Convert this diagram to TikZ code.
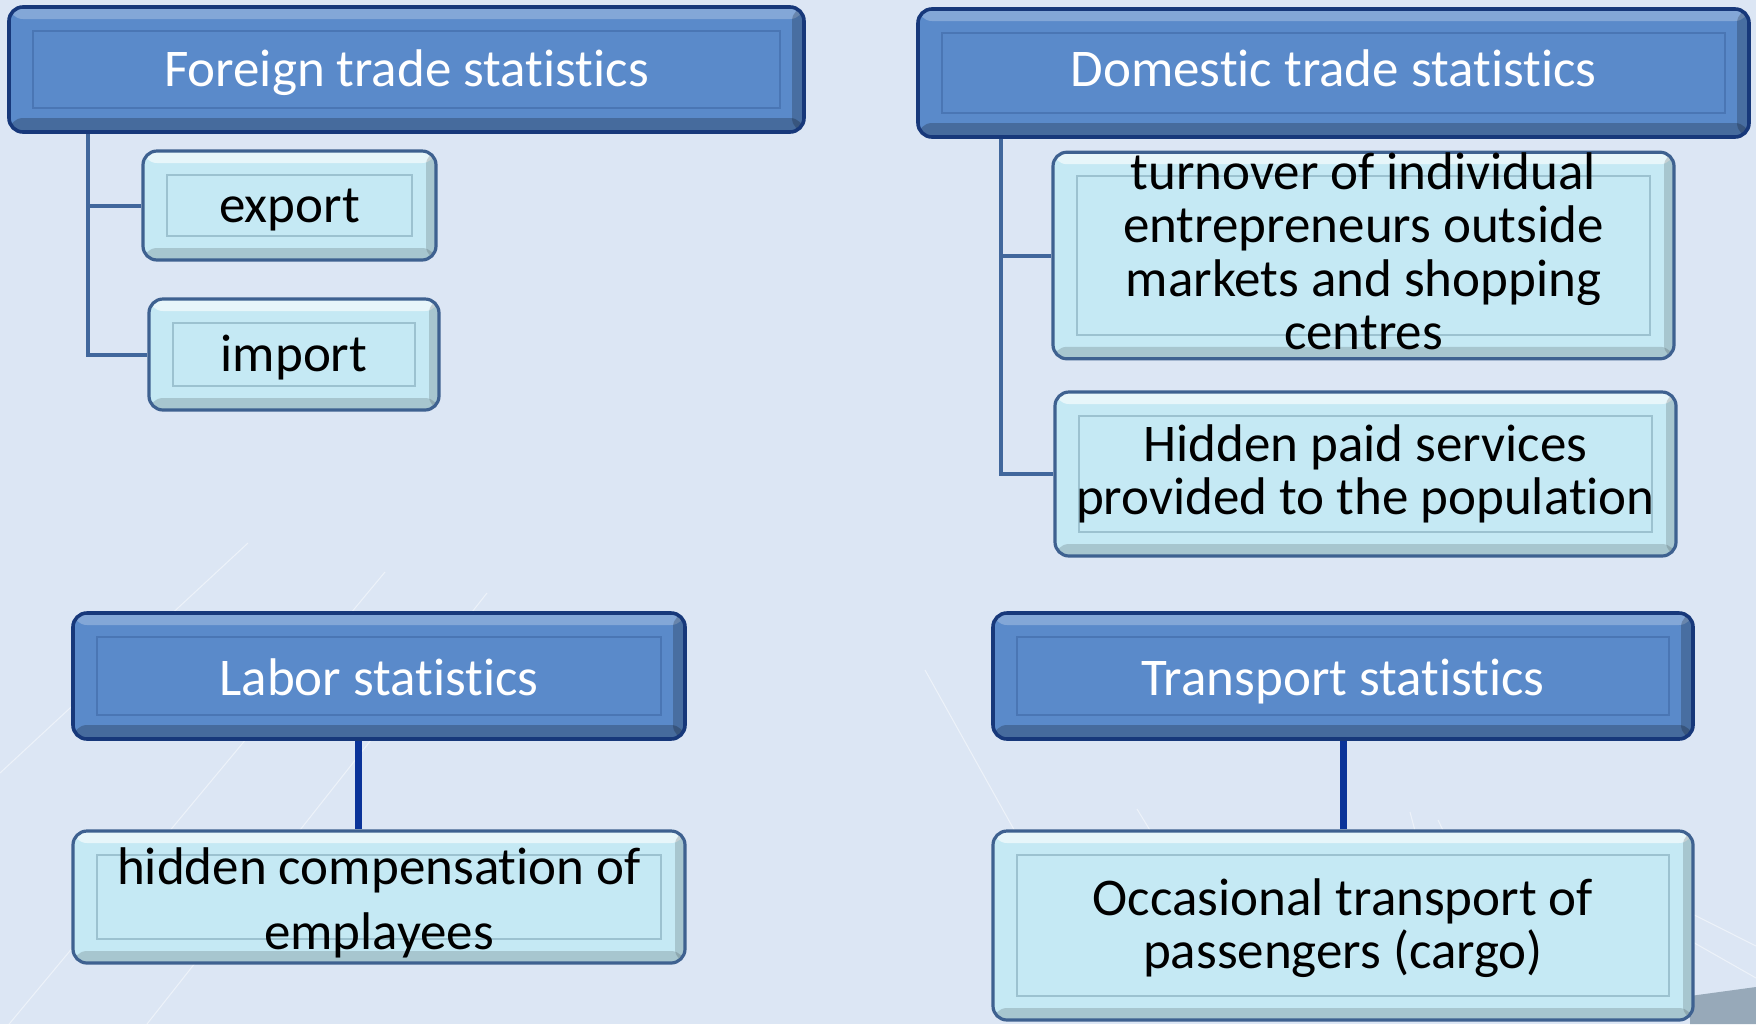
\documentclass[tikz,border=0pt]{standalone}
\usepackage{fontspec}
\setmainfont{Carlito}[Ligatures=NoCommon]
\definecolor{bg}{HTML}{DCE6F4}
\definecolor{hdrfill}{HTML}{5A8ACA}
\definecolor{hdrline}{HTML}{17387A}
\definecolor{hdrinner}{HTML}{4A76B4}
\definecolor{chlfill}{HTML}{C5E9F4}
\definecolor{chlline}{HTML}{3E6190}
\definecolor{chlinner}{HTML}{9CC2D0}
\definecolor{treeline}{HTML}{41679C}
\definecolor{navyline}{HTML}{0A3399}
\definecolor{cornergray}{HTML}{97A9B9}
\tikzset{
  boxfont/.style={font=\fontsize{26.5}{26.8}\selectfont, align=center},
  hdr/.style={boxfont, rounded corners=7pt, fill=hdrfill, draw=hdrline, line width=1.8pt,
    text=white, inner sep=0pt, text height=17pt, text depth=0pt,
    path picture={
      \fill[white,opacity=.25] (path picture bounding box.north west) rectangle ([yshift=-6pt]path picture bounding box.north east);
      \fill[black,opacity=.22] ([yshift=7pt]path picture bounding box.south west) rectangle (path picture bounding box.south east);
      \fill[black,opacity=.2] ([xshift=-6pt]path picture bounding box.north east) rectangle (path picture bounding box.south east);
      \draw[sharp corners, hdrinner, line width=.9pt] ([shift={(12pt,-12pt)}]path picture bounding box.north west) rectangle ([shift={(-12pt,12pt)}]path picture bounding box.south east);
    }},
  chl/.style={boxfont, rounded corners=7pt, fill=chlfill, draw=chlline, line width=1.6pt,
    text=black, inner sep=0pt,
    path picture={
      \fill[white,opacity=.6] (path picture bounding box.north west) rectangle ([yshift=-6pt]path picture bounding box.north east);
      \fill[black,opacity=.15] ([yshift=6pt]path picture bounding box.south west) rectangle (path picture bounding box.south east);
      \fill[black,opacity=.15] ([xshift=-5pt]path picture bounding box.north east) rectangle (path picture bounding box.south east);
      \draw[sharp corners, chlinner, line width=.9pt] ([shift={(12pt,-12pt)}]path picture bounding box.north west) rectangle ([shift={(-12pt,12pt)}]path picture bounding box.south east);
    }},
  oneline/.style={text height=16.5pt, text depth=0pt},
  tree/.style={treeline, line width=2pt},
  link/.style={navyline, line width=3.5pt},
  deco/.style={white, opacity=.5, line width=.5pt},
}
\begin{document}
\begin{tikzpicture}[x=0.5pt,y=-0.5pt]
\useasboundingbox (0,0) rectangle (1756,1024);
\fill[bg] (0,0) rectangle (1756,1024);
% faint background lines
\draw[deco] (248,543) -- (0,773);
\draw[deco] (385,572) -- (0,1035);
\draw[deco] (487,593) -- (147,1024);
\draw[deco] (925,670) -- (1080,948);
\draw[deco] (1137,809) -- (1222,948);
\draw[deco] (1410,812) -- (1446,948);
\draw[deco] (1438,820) -- (1500,948);
\draw[deco] (1498,836) -- (1599,948);
\draw[deco] (1517,842) -- (1756,978);
\draw[deco] (1593,864) -- (1756,946);
\draw[deco] (1574,858) -- (1552,948);
\fill[cornergray] (1690,996) -- (1756,987) -- (1756,1024) -- (1690,1024) -- cycle;

% nodes
\node[hdr, minimum width=397.5pt, minimum height=62.5pt] (foreign) at (406.5,69.5) {Foreign trade statistics};
\node[hdr, minimum width=415.5pt, minimum height=64pt, text height=13.6pt] (domestic) at (1333.5,73) {Domestic trade statistics};
\node[chl, oneline, minimum width=146.5pt, minimum height=54.5pt] (export) at (289.5,205.5) {export};
\node[chl, oneline, minimum width=145pt, minimum height=55.5pt] (import) at (294,354.5) {import};
\node[chl, minimum width=310.5pt, minimum height=100.5pt] (turnover) at (1363.5,255.5) {turnover of individual\\entrepreneurs outside\\markets and shopping\\centres\rule[-4.5pt]{0pt}{4.5pt}};
\node[chl, minimum width=310.5pt, minimum height=82pt] (hidden) at (1365.5,474) {Hidden paid services\\provided to the population};
\node[hdr, minimum width=306pt, minimum height=63pt, text height=19.5pt] (labor) at (379,676) {Labor statistics};
\node[chl, minimum width=306pt, minimum height=66pt, font=\fontsize{26.5}{32.5}\selectfont] (comp) at (379,897) {\rule{0pt}{24pt}hidden compensation of\\emplayees};
\node[hdr, minimum width=350pt, minimum height=63pt, text height=19.5pt] (transport) at (1343,676) {Transport statistics};
\node[chl, minimum width=350pt, minimum height=94.5pt] (occasional) at (1343,925.5) {\rule{0pt}{21pt}Occasional transport of\\passengers (cargo)};

% connectors
\coordinate (ft) at ([xshift=40.5pt]foreign.south west);
\coordinate (dt) at ([xshift=42.5pt]domestic.south west);
\draw[tree] (ft) |- (export.west);
\draw[tree] (ft) |- (import.west);
\draw[tree] (dt) |- (turnover.west);
\draw[tree] (dt) |- (hidden.west);
\draw[link] ([xshift=-10.5pt]labor.south) -- ([xshift=-10.5pt]comp.north);
\draw[link] (transport.south) -- (occasional.north);
\end{tikzpicture}
\end{document}
